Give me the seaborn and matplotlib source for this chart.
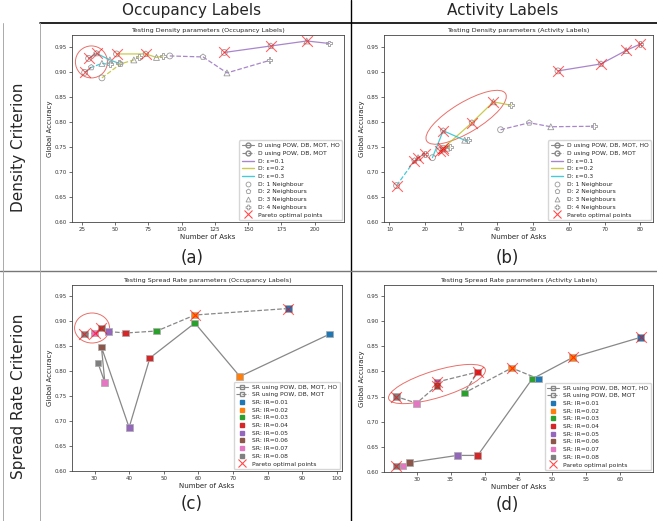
import matplotlib
matplotlib.use("Agg")
import matplotlib.pyplot as plt
import seaborn as sns
import pandas as pd
from matplotlib.lines import Line2D
from matplotlib.patches import Ellipse
from matplotlib.transforms import ScaledTranslation

#%% data
neighbours = [1, 2, 3, 4]
nb_markers = {1: 'o', 2: 'p', 3: '^', 4: 'P'}
nb_labels = ['D: 1 Neighbour', 'D: 2 Neighbours', 'D: 3 Neighbours', 'D: 4 Neighbours']
eps = ['0.1', '0.2', '0.3']
eps_colors = {'0.1': '#9467bd', '0.2': '#bcbd22', '0.3': '#17becf'}

# (a) density, occupancy labels
a_e1_ho_x = [132, 167, 194, 211]
a_e1_ho_y = [0.940, 0.953, 0.963, 0.958]
a_e1_x = [91, 116, 134, 166]
a_e1_y = [0.933, 0.931, 0.899, 0.924]
a_e2_ho_x = [51, 73, 81, 86]
a_e2_ho_y = [0.937, 0.937, 0.930, 0.933]
a_e2_x = [40, 54, 64, 68]
a_e2_y = [0.889, 0.917, 0.925, 0.931]
a_e3_ho_x = [30, 36, 46, 53]
a_e3_ho_y = [0.928, 0.938, 0.925, 0.918]
a_e3_x = [27, 32, 40, 46]
a_e3_y = [0.900, 0.910, 0.918, 0.916]
a_par_x = [27, 30, 36, 51, 73, 132, 167, 194]
a_par_y = [0.900, 0.928, 0.938, 0.937, 0.937, 0.940, 0.953, 0.963]

# (b) density, activity labels
b_e1_ho_x = [57, 69, 76, 80]
b_e1_ho_y = [0.903, 0.917, 0.944, 0.957]
b_e1_x = [41, 49, 55, 67]
b_e1_y = [0.785, 0.799, 0.791, 0.792]
b_e2_ho_x = [25, 33, 39, 44]
b_e2_ho_y = [0.748, 0.799, 0.841, 0.834]
b_e2_x = [24, 25, 26, 27]
b_e2_y = [0.743, 0.745, 0.748, 0.750]
b_e3_ho_x = [22, 25, 31, 32]
b_e3_ho_y = [0.729, 0.783, 0.764, 0.764]
b_e3_x = [12, 17, 18, 20]
b_e3_y = [0.673, 0.723, 0.729, 0.737]
b_par_x = [12, 17, 18, 20, 24, 25, 25, 25, 33, 39, 57, 69, 76, 80]
b_par_y = [0.673, 0.723, 0.729, 0.737, 0.743, 0.745, 0.748, 0.783, 0.799, 0.841,
           0.903, 0.917, 0.944, 0.957]

# spread rate, IR levels
ir_levels = ['0.01', '0.02', '0.03', '0.04', '0.05', '0.06', '0.07', '0.08']
ir_colors = sns.color_palette('tab10', 8)

# (c) spread rate, occupancy labels
c_ho_x = [98, 72, 59, 46, 40, 32, 33, 31]
c_ho_y = [0.874, 0.789, 0.896, 0.826, 0.687, 0.848, 0.777, 0.816]
c_x = [86, 59, 48, 39, 34, 32, 30, 27]
c_y = [0.925, 0.912, 0.880, 0.876, 0.879, 0.886, 0.876, 0.874]
c_par_x = [27, 30, 32, 59, 86]
c_par_y = [0.874, 0.876, 0.886, 0.912, 0.925]

# (d) spread rate, activity labels
d_ho_x = [63, 53, 47, 39, 36, 29, 28, 27]
d_ho_y = [0.868, 0.828, 0.785, 0.633, 0.633, 0.619, 0.612, 0.612]
d_x = [48, 44, 37, 39, 33, 33, 30, 27]
d_y = [0.785, 0.807, 0.757, 0.799, 0.779, 0.772, 0.737, 0.750]
d_par_x = [27, 27, 33, 33, 39, 44, 53, 63]
d_par_y = [0.612, 0.750, 0.772, 0.779, 0.799, 0.807, 0.828, 0.868]

#%% style
sns.set_style('ticks')
plt.rcParams.update({
    'font.family': ['DejaVu Sans'],
    'axes.edgecolor': '#444444',
    'axes.linewidth': 0.6,
    'xtick.major.size': 2, 'ytick.major.size': 2,
    'xtick.major.width': 0.5, 'ytick.major.width': 0.5,
    'xtick.color': '#333333', 'ytick.color': '#333333',
    'xtick.labelsize': 4, 'ytick.labelsize': 4,
    'xtick.major.pad': 1.5, 'ytick.major.pad': 1.5,
    'axes.labelsize': 5, 'axes.labelpad': 1.5,
    'axes.titlesize': 4.6, 'axes.titlepad': 2,
})

fig = plt.figure(figsize=(6.57, 5.21), dpi=100)
W, H = 657.0, 521.0


def px_axes(l, r, t, b):
    return fig.add_axes([l / W, 1 - b / H, (r - l) / W, (b - t) / H])


def ring(ax, cx, cy, w, h, ang):
    # ellipse sized in pixels, centred on a data point
    tr = fig.dpi_scale_trans + ScaledTranslation(cx, cy, ax.transData)
    ax.add_patch(Ellipse((0, 0), w / 100, h / 100, angle=ang, transform=tr,
                         fill=False, ec='#e8706a', lw=0.7))


def dens_frame(series):
    rows = []
    for e, ho, xs, ys in series:
        for n, x, y in zip(neighbours, xs, ys):
            rows.append({'eps': e, 'ho': ho, 'nb': n, 'asks': x, 'acc': y})
    return pd.DataFrame(rows)


def sr_frame(xs_ho, ys_ho, xs, ys):
    rows = []
    for ho, X, Y in [(True, xs_ho, ys_ho), (False, xs, ys)]:
        for ir, x, y in zip(ir_levels, X, Y):
            rows.append({'ir': ir, 'ho': ho, 'asks': x, 'acc': y})
    return pd.DataFrame(rows)


def pareto(ax, xs, ys):
    sns.scatterplot(x=xs, y=ys, marker='x', color='red', s=60, linewidth=0.8,
                    alpha=0.6, ax=ax, legend=False, zorder=5)


def finish(ax, title, xlim, ylim):
    ax.set_title(title)
    ax.set_xlim(*xlim)
    ax.set_ylim(*ylim)
    ax.set_xlabel('Number of Asks')
    ax.set_ylabel('Global Accuracy')


def add_legend(ax, hd):
    ax.legend(handles=hd, loc='lower right', fontsize=4.3, labelspacing=0.42,
              handlelength=2.0, borderpad=0.45, handletextpad=0.7,
              borderaxespad=0.3)


def plot_density(ax, df, px, py, title, xlim):
    for (e, ho), g in df.groupby(['eps', 'ho'], sort=False):
        sns.lineplot(data=g, x='asks', y='acc', sort=False, estimator=None,
                     color=eps_colors[e], linestyle='-' if ho else '--',
                     lw=0.9, alpha=0.8, ax=ax, legend=False)
    sns.scatterplot(data=df, x='asks', y='acc', style='nb', markers=nb_markers,
                    facecolor='none', edgecolor='#9a9a9a', s=18, linewidth=0.6,
                    ax=ax, legend=False, zorder=4)
    pareto(ax, px, py)
    finish(ax, title, xlim, (0.6, 0.975))
    hd = [Line2D([], [], color='#888888', ls='-', lw=0.8, marker='o', mfc='none',
                 mec='#888888', ms=3.5, label='D using POW, DB, MOT, HO'),
          Line2D([], [], color='#888888', ls='--', lw=0.8, marker='o', mfc='none',
                 mec='#888888', ms=3.5, label='D using POW, DB, MOT')]
    hd += [Line2D([], [], color=eps_colors[e], lw=1, alpha=0.8, label='D: ε=' + e)
           for e in eps]
    hd += [Line2D([], [], ls='none', marker=nb_markers[n], mfc='none', mec='#999999',
                  ms=3.5, mew=0.6, label=lab) for n, lab in zip(neighbours, nb_labels)]
    hd += [Line2D([], [], ls='none', marker='x', color='red', alpha=0.7, ms=6,
                  mew=0.8, label='Pareto optimal points')]
    add_legend(ax, hd)


def plot_spread(ax, df, px, py, title, xlim):
    for ho, g in df.groupby('ho', sort=False):
        sns.lineplot(data=g, x='asks', y='acc', sort=False, estimator=None,
                     color='#888888', linestyle='-' if ho else '--', lw=0.9,
                     ax=ax, legend=False)
    sns.scatterplot(data=df, x='asks', y='acc', hue='ir', palette=ir_colors,
                    marker='s', s=24, edgecolor='#aaaaaa', linewidth=0.5,
                    ax=ax, legend=False, zorder=4)
    pareto(ax, px, py)
    finish(ax, title, xlim, (0.6, 0.972))
    hd = [Line2D([], [], color='#888888', ls='-', lw=0.8, marker='s', mfc='none',
                 mec='#888888', ms=3.5, label='SR using POW, DB, MOT, HO'),
          Line2D([], [], color='#888888', ls='--', lw=0.8, marker='s', mfc='none',
                 mec='#888888', ms=3.5, label='SR using POW, DB, MOT')]
    hd += [Line2D([], [], ls='none', marker='s', color=c, ms=3.5, label='SR: IR=' + ir)
           for ir, c in zip(ir_levels, ir_colors)]
    hd += [Line2D([], [], ls='none', marker='x', color='red', alpha=0.7, ms=6,
                  mew=0.8, label='Pareto optimal points')]
    add_legend(ax, hd)


#%% panels
dfa = dens_frame([('0.1', True, a_e1_ho_x, a_e1_ho_y), ('0.1', False, a_e1_x, a_e1_y),
                  ('0.2', True, a_e2_ho_x, a_e2_ho_y), ('0.2', False, a_e2_x, a_e2_y),
                  ('0.3', True, a_e3_ho_x, a_e3_ho_y), ('0.3', False, a_e3_x, a_e3_y)])
dfb = dens_frame([('0.1', True, b_e1_ho_x, b_e1_ho_y), ('0.1', False, b_e1_x, b_e1_y),
                  ('0.2', True, b_e2_ho_x, b_e2_ho_y), ('0.2', False, b_e2_x, b_e2_y),
                  ('0.3', True, b_e3_ho_x, b_e3_ho_y), ('0.3', False, b_e3_x, b_e3_y)])
dfc = sr_frame(c_ho_x, c_ho_y, c_x, c_y)
dfd = sr_frame(d_ho_x, d_ho_y, d_x, d_y)

ax_a = px_axes(72, 344, 35, 222)
plot_density(ax_a, dfa, a_par_x, a_par_y,
             'Testing Density parameters (Occupancy Labels)', (17.5, 222))
ring(ax_a, 32.1, 0.921, 32, 32, 0)

ax_b = px_axes(384, 653, 35, 222)
plot_density(ax_b, dfb, b_par_x, b_par_y,
             'Testing Density parameters (Activity Labels)', (8.5, 83.5))
ring(ax_b, 31.4, 0.810, 92, 30, 31)

ax_c = px_axes(72, 342, 285, 471)
plot_spread(ax_c, dfc, c_par_x, c_par_y,
            'Testing Spread Rate parameters (Occupancy Labels)', (23.5, 101.5))
ring(ax_c, 29.3, 0.886, 35, 30, 0)

ax_d = px_axes(384, 653, 285, 472)
plot_spread(ax_d, dfd, d_par_x, d_par_y,
            'Testing Spread Rate parameters (Activity Labels)', (25.2, 64.8))
ring(ax_d, 33.0, 0.775, 101, 27, 17)

#%% table frame, headers and captions
def fline(x0, y0, x1, y1, color='black', lw=1.0):
    fig.add_artist(Line2D([x0 / W, x1 / W], [1 - y0 / H, 1 - y1 / H],
                          transform=fig.transFigure, color=color, lw=lw))

fline(40, 23, 657, 23, lw=1.2)
fline(351, 0, 351, 521, lw=1.0)
fline(0, 271, 657, 271, color='#777777', lw=1.0)
fline(3, 23, 3, 521, color='#aaaaaa', lw=0.7)
fline(40, 23, 40, 521, color='#aaaaaa', lw=0.7)

fig.text(192 / W, 1 - 11 / H, 'Occupancy Labels', ha='center', va='center', fontsize=11)
fig.text(503 / W, 1 - 11 / H, 'Activity Labels', ha='center', va='center', fontsize=11)
fig.text(19 / W, 1 - 147 / H, 'Density Criterion', rotation=90, ha='center',
         va='center', fontsize=11)
fig.text(19 / W, 1 - 396 / H, 'Spread Rate Criterion', rotation=90, ha='center',
         va='center', fontsize=11)
for lab, x, y in [('(a)', 192, 258), ('(b)', 507, 258), ('(c)', 192, 504), ('(d)', 507, 505)]:
    fig.text(x / W, 1 - y / H, lab, ha='center', va='center', fontsize=12)

fig.savefig('out.png', dpi=100)
